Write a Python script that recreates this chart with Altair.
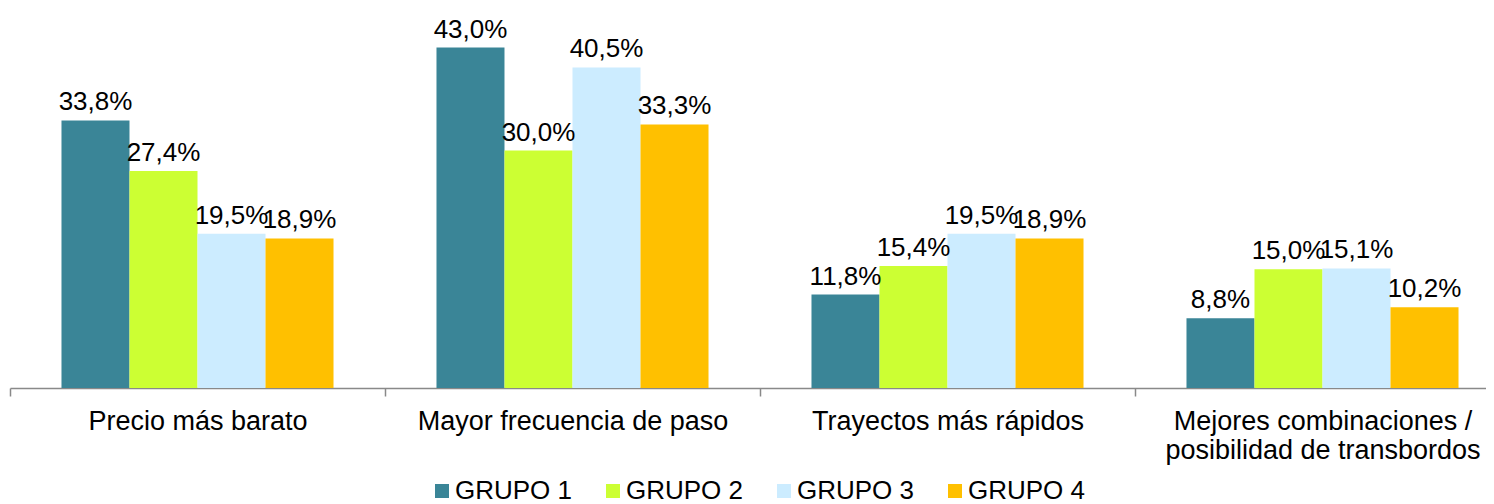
import altair as alt
import pandas as pd

categories = [
    "Precio más barato",
    "Mayor frecuencia de paso",
    "Trayectos más rápidos",
    "Mejores combinaciones / posibilidad de transbordos",
]
groups = ["GRUPO 1", "GRUPO 2", "GRUPO 3", "GRUPO 4"]
grupo1 = [33.8, 43.0, 11.8, 8.8]
grupo2 = [27.4, 30.0, 15.4, 15.0]
grupo3 = [19.5, 40.5, 19.5, 15.1]
grupo4 = [18.9, 33.3, 18.9, 10.2]
colors = ["#3A8597", "#CCFF33", "#CCECFF", "#FFC000"]

rows = []
for g, vals in zip(groups, [grupo1, grupo2, grupo3, grupo4]):
    for c, v in zip(categories, vals):
        rows.append({"categoria": c, "grupo": g, "valor": v,
                     "etiqueta": f"{v:.1f}%".replace(".", ",")})
df = pd.DataFrame(rows)

FONT = "Liberation Sans"

label_expr = ("datum.label == '" + categories[3] + "' ? "
              "['Mejores combinaciones /', 'posibilidad de transbordos'] : datum.label")

base = alt.Chart(df).encode(
    x=alt.X(
        "categoria:N",
        sort=categories,
        scale=alt.Scale(paddingInner=0, paddingOuter=0),
        axis=alt.Axis(
            title=None, tickBand="extent", labelAngle=0, labelFontSize=27,
            labelFont=FONT, labelColor="black", domainColor="#898989",
            tickColor="#898989", tickSize=8, labelPadding=12, labelLineHeight=29,
            labelLimit=600, labelExpr=label_expr, domainWidth=1.5, tickWidth=1.5,
        ),
    ),
    xOffset=alt.XOffset("grupo:N", sort=groups,
                        scale=alt.Scale(paddingInner=0, paddingOuter=0.757)),
    y=alt.Y("valor:Q", scale=alt.Scale(domain=[0, 48]), axis=None),
)

bars = base.mark_bar().encode(
    color=alt.Color(
        "grupo:N", sort=groups,
        scale=alt.Scale(domain=groups, range=colors),
        legend=alt.Legend(
            title=None, orient="none", legendX=419, legendY=470,
            direction="horizontal", symbolType="square", symbolSize=196,
            symbolStrokeWidth=0, labelFontSize=26, labelFont=FONT,
            labelColor="black", labelOffset=0, columnPadding=27, padding=0,
        ),
    )
)

text = base.mark_text(dy=-10, baseline="alphabetic", fontSize=26,
                      font=FONT, color="black").encode(text="etiqueta:N")

chart = (
    alt.layer(bars, text)
    .properties(
        width=1500, height=380,
        autosize=alt.AutoSizeParams(type="none"),
        padding={"left": 2, "top": 0, "right": -24, "bottom": 116},
    )
    .configure_view(stroke=None)
)

chart.save("out.html", embed_options={"renderer": "svg", "actions": False})
